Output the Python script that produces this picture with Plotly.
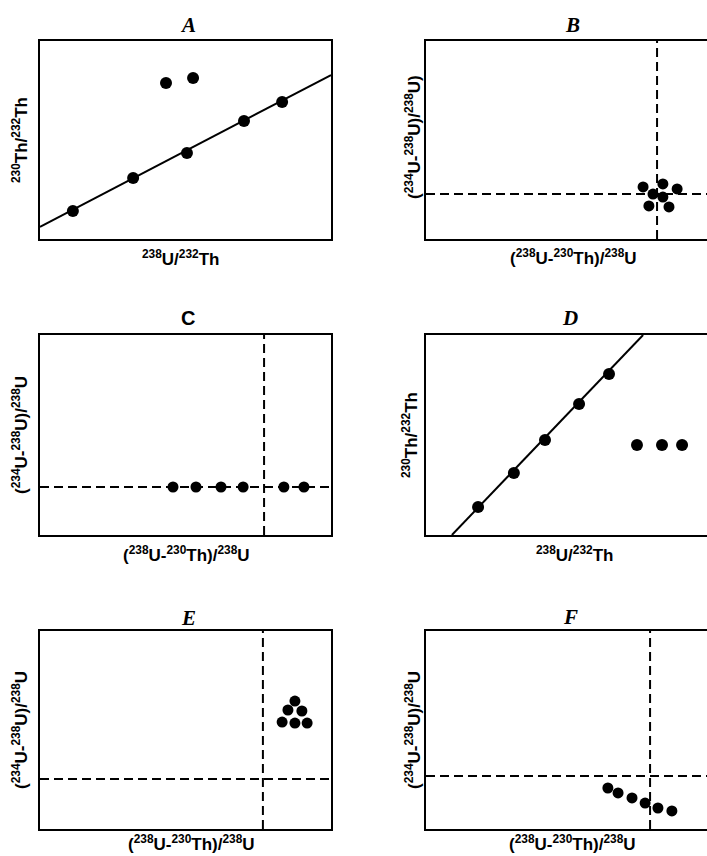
import plotly.graph_objects as go

W, H = 707, 856

# ---------------- data (arbitrary units, 0-100 on each axis) ----------------
# Panel A: isochron with two outliers
a_line_x = [0, 100]
a_line_y = [6.1, 82.8]
a_pts_x = [11.3, 32.0, 50.5, 70.1, 83.2]
a_pts_y = [14.1, 30.8, 43.4, 59.6, 69.2]
a_out_x = [43.3, 52.6]
a_out_y = [78.8, 81.3]

# Panel B: cluster at the reference cross
b_ref_x = 79.4
b_ref_y = 22.7
b_x = [74.6, 81.4, 86.3, 78.0, 81.4, 76.6, 83.5]
b_y = [26.3, 27.8, 25.3, 22.7, 21.2, 16.7, 16.2]

# Panel C: points along the horizontal reference
c_ref_x = 77.0
c_ref_y = 24.0
c_x = [45.7, 53.6, 62.2, 69.8, 83.8, 90.7]
c_y = [24.0, 24.0, 24.0, 24.0, 24.0, 24.0]

# Panel D: steep isochron plus three off-line points
d_line_x = [8.9, 74.6]
d_line_y = [0.0, 100.0]
d_pts_x = [17.9, 30.2, 40.9, 52.6, 62.9]
d_pts_y = [14.0, 31.0, 47.5, 65.5, 80.5]
d_out_x = [72.5, 81.1, 88.0]
d_out_y = [45.0, 45.0, 45.0]

# Panel E: compact triangle cluster
e_ref_x = 76.6
e_ref_y = 25.3
e_x = [87.6, 85.2, 90.0, 83.2, 87.6, 91.8]
e_y = [64.6, 60.1, 59.6, 54.0, 53.5, 53.5]

# Panel F: descending array
f_ref_x = 77.0
f_ref_y = 26.8
f_x = [62.5, 66.0, 70.8, 75.3, 79.7, 84.5]
f_y = [20.7, 18.2, 15.7, 13.1, 10.6, 9.1]

titles = ["A", "B", "C", "D", "E", "F"]
lab_ratio_th = "<sup>230</sup>Th/<sup>232</sup>Th"
lab_ratio_u = "<sup>238</sup>U/<sup>232</sup>Th"
lab_dev_u = "(<sup>234</sup>U-<sup>238</sup>U)/<sup>238</sup>U"
lab_dev_u_b = "(<sup>234</sup>U-<sup>238</sup>U)/<sup>238</sup>U)"
lab_dev_th = "(<sup>238</sup>U-<sup>230</sup>Th)/<sup>238</sup>U"

# ---------------- layout helpers ----------------
def px(x):
    return x / W

def py(y):
    return 1 - y / H

LEFT = [40, 331]
RIGHT = [426, 707]
RIGHT_FULL = 291.0
rows = [[41, 239], [335, 535], [631, 829]]

fig = go.Figure()

def axname(i, kind):
    return kind if i == 1 else f"{kind}{i}"

def add_pts(i, xs, ys, size=11):
    fig.add_trace(go.Scatter(x=xs, y=ys, mode="markers",
                             marker=dict(color="black", size=size, line=dict(width=0)),
                             xaxis=axname(i, "x"), yaxis=axname(i, "y"),
                             showlegend=False, hoverinfo="skip"))

def add_line(i, xs, ys, dash="solid"):
    fig.add_trace(go.Scatter(x=xs, y=ys, mode="lines",
                             line=dict(color="black", width=2, dash=dash),
                             xaxis=axname(i, "x"), yaxis=axname(i, "y"),
                             showlegend=False, hoverinfo="skip"))

def add_cross(i, vx, hy):
    add_line(i, [vx, vx], [0, 100], dash="9px,5px")
    add_line(i, [0, 100], [hy, hy], dash="9px,5px")

# A
add_line(1, a_line_x, a_line_y)
add_pts(1, a_pts_x, a_pts_y, 12)
add_pts(1, a_out_x, a_out_y, 12)
# B
add_cross(2, b_ref_x, b_ref_y)
add_pts(2, b_x, b_y, 11)
# C
add_cross(3, c_ref_x, c_ref_y)
add_pts(3, c_x, c_y, 11)
# D
add_line(4, d_line_x, d_line_y)
add_pts(4, d_pts_x, d_pts_y, 12)
add_pts(4, d_out_x, d_out_y, 12)
# E
add_cross(5, e_ref_x, e_ref_y)
add_pts(5, e_x, e_y, 11)
# F
add_cross(6, f_ref_x, f_ref_y)
add_pts(6, f_x, f_y, 11)

layout = dict(width=W, height=H, margin=dict(l=0, r=0, t=0, b=0),
              paper_bgcolor="white", plot_bgcolor="white", autosize=False)

for i in range(1, 7):
    r = (i - 1) // 2
    c = (i - 1) % 2
    xs = LEFT if c == 0 else RIGHT
    ys = rows[r]
    xr = [0, 100] if c == 0 else [0, 100 * (RIGHT[1] - RIGHT[0]) / RIGHT_FULL]
    layout["xaxis" if i == 1 else f"xaxis{i}"] = dict(
        domain=[px(xs[0]), px(xs[1])], range=xr, anchor=axname(i, "y"),
        showline=True, linecolor="black", linewidth=2, mirror=True,
        showgrid=False, zeroline=False, showticklabels=False, ticks="")
    layout["yaxis" if i == 1 else f"yaxis{i}"] = dict(
        domain=[py(ys[1]), py(ys[0])], range=[0, 100], anchor=axname(i, "x"),
        showline=True, linecolor="black", linewidth=2, mirror=(c == 0),
        showgrid=False, zeroline=False, showticklabels=False, ticks="")

fig.update_layout(**layout)

title_font = dict(family="Liberation Serif", size=21, color="black", weight="bold", style="italic")
lab_font = dict(family="Liberation Sans", size=17, color="black", weight="bold")

def ann(text, x, y, font, angle=0):
    fig.add_annotation(text=text, x=px(x), y=py(y), xref="paper", yref="paper",
                       xanchor="center", yanchor="middle", showarrow=False,
                       font=font, textangle=angle)

title_pos = [(188, 25), (572, 25), (188, 318), (570, 318), (188, 618), (570, 617)]
for t, (x, y) in zip(titles, title_pos):
    f = dict(title_font)
    if t == "C":
        f = dict(family="Liberation Sans", size=20, color="black", weight="bold")
    ann(t, x, y, f)

# x labels
ann(lab_ratio_u, 180, 258, lab_font)
ann(lab_dev_th, 573, 257, lab_font)
ann(lab_dev_th, 186, 554, lab_font)
ann(lab_ratio_u, 574, 554, lab_font)
ann(lab_dev_th, 191, 843, lab_font)
ann(lab_dev_th, 572, 843, lab_font)

# y labels
ann(lab_ratio_th, 20, 140, lab_font, -90)
ann(lab_dev_u_b, 413, 137, lab_font, -90)
ann(lab_dev_u, 20, 435, lab_font, -90)
ann(lab_ratio_th, 410, 435, lab_font, -90)
ann(lab_dev_u, 20, 730, lab_font, -90)
ann(lab_dev_u, 413, 730, lab_font, -90)

fig.write_html("out.html")
